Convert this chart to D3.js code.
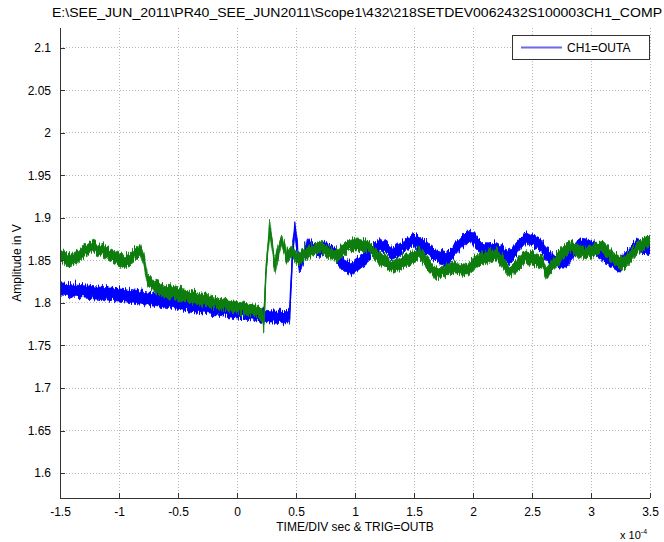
<!DOCTYPE html>
<html><head><meta charset="utf-8">
<script src="https://cdn.jsdelivr.net/npm/d3@7"></script>
<style>body{margin:0;background:#fff}svg{display:block}text{font-family:"Liberation Sans",Arial,sans-serif;fill:#000}</style>
</head><body><svg id="c" width="664" height="542"></svg>
<script>
const titleText = "E:\\SEE_JUN_2011\\PR40_SEE_JUN2011\\Scope1\\432\\218SETDEV0062432S100003CH1_COMP";
const xLabel = "TIME/DIV sec & TRIG=OUTB";
const yLabel = "Amplitude in V";
const legendLabel = "CH1=OUTA";
const xTicks = [-1.5,-1,-0.5,0,0.5,1,1.5,2,2.5,3,3.5];
const yTicks = [1.6,1.65,1.7,1.75,1.8,1.85,1.9,1.95,2,2.05,2.1];
const xDomain = [-1.5, 3.5];
const yDomain = [1.5706, 2.1235];

// Blue series (CH1=OUTA): time (x1e-4 s), centre value (V)
const blueT = [-1.5,-1.25,-1.0,-0.75,-0.5,-0.25,0.0,0.2,0.43,0.445,0.47,0.49,0.53,0.56,0.6,0.65,0.7,0.74,0.83,0.9,0.97,1.06,1.14,1.21,1.32,1.40,1.49,1.57,1.69,1.78,1.88,1.97,2.08,2.2,2.31,2.38,2.45,2.56,2.67,2.79,2.9,3.01,3.13,3.24,3.32,3.39,3.5];
const blueV = [1.819,1.816,1.813,1.808,1.802,1.797,1.792,1.788,1.786,1.787,1.86,1.892,1.845,1.855,1.872,1.866,1.862,1.869,1.861,1.849,1.843,1.853,1.863,1.872,1.861,1.868,1.878,1.871,1.859,1.855,1.870,1.883,1.866,1.866,1.857,1.868,1.880,1.872,1.853,1.853,1.872,1.869,1.857,1.847,1.860,1.871,1.866];
const blueNoise = 0.0072;

// Green series (second channel)
const greenT = [-1.5,-1.43,-1.35,-1.23,-1.12,-1.05,-0.95,-0.88,-0.82,-0.79,-0.76,-0.70,-0.6,-0.48,-0.35,-0.23,-0.1,0.04,0.15,0.21,0.227,0.245,0.278,0.32,0.35,0.38,0.42,0.46,0.51,0.6,0.72,0.83,0.94,1.02,1.11,1.23,1.32,1.46,1.55,1.69,1.83,1.95,2.06,2.2,2.31,2.45,2.59,2.62,2.72,2.82,2.96,3.1,3.18,3.27,3.41,3.5];
const greenV = [1.859,1.853,1.858,1.869,1.862,1.858,1.851,1.858,1.866,1.855,1.832,1.822,1.817,1.813,1.809,1.805,1.801,1.797,1.794,1.790,1.776,1.84,1.893,1.845,1.862,1.877,1.857,1.865,1.855,1.862,1.868,1.857,1.870,1.872,1.869,1.853,1.845,1.855,1.861,1.837,1.845,1.842,1.855,1.861,1.839,1.857,1.851,1.839,1.855,1.869,1.861,1.8685,1.857,1.849,1.869,1.878];
const greenNoise = 0.0068;

const svg = d3.select("#c");
const L = 60, R = 650, T = 28, B = 498;
const x = d3.scaleLinear().domain(xDomain).range([L, R]);
const y = d3.scaleLinear().domain(yDomain).range([B, T]);

// roughening filter (visual style for the noisy oscilloscope trace)
const defs = svg.append("defs");
const f = defs.append("filter").attr("id", "rough").attr("x", "-5%").attr("y", "-20%").attr("width", "110%").attr("height", "140%");
f.append("feTurbulence").attr("type", "turbulence").attr("baseFrequency", "0.9 0.03").attr("numOctaves", 2).attr("seed", 3).attr("result", "n");
f.append("feColorMatrix").attr("in", "n").attr("type", "matrix")
  .attr("values", "0 0 0 0 0.5  0 1 0 0 0  0 0 0 0 0  0 0 0 0 1").attr("result", "m");
f.append("feDisplacementMap").attr("in", "SourceGraphic").attr("in2", "m").attr("scale", 10)
  .attr("xChannelSelector", "R").attr("yChannelSelector", "G");
defs.append("clipPath").attr("id", "plotclip").append("rect").attr("x", L).attr("y", T).attr("width", R - L).attr("height", B - T);

// grid
const g = svg.append("g");
g.selectAll(".gx").data(xTicks.slice(1)).enter().append("line")
  .attr("x1", d => x(d)).attr("x2", d => x(d)).attr("y1", T).attr("y2", B)
  .attr("stroke", "#b8b8b8").attr("stroke-dasharray", "1,2").attr("shape-rendering","crispEdges");
g.selectAll(".gy").data(yTicks).enter().append("line")
  .attr("x1", L).attr("x2", R).attr("y1", d => y(d)).attr("y2", d => y(d))
  .attr("stroke", "#b8b8b8").attr("stroke-dasharray", "1,2").attr("shape-rendering","crispEdges");

// series
const plot = svg.append("g").attr("clip-path", "url(#plotclip)");
function drawSeries(ts, vs, noise, color) {
  const pts = ts.map((t, i) => [t, vs[i]]);
  const gg = plot.append("g").attr("filter", "url(#rough)");
  const area = d3.area().x(d => x(d[0])).y0(d => y(d[1] - noise)).y1(d => y(d[1] + noise));
  gg.append("path").datum(pts).attr("d", area).attr("fill", color).attr("stroke", color).attr("stroke-width", 0.8);
  const line = d3.line().x(d => x(d[0])).y(d => y(d[1]));
  gg.append("path").datum(pts).attr("d", line).attr("fill", "none").attr("stroke", color).attr("stroke-width", 1.5);
}
drawSeries(blueT, blueV, blueNoise, "#0000ff");
drawSeries(greenT, greenV, greenNoise, "#0a7d0a");

// axes
const xAxis = d3.axisBottom(x).tickValues(xTicks).tickSizeInner(-5).tickSizeOuter(0).tickPadding(9).tickFormat(d => d);
const yAxis = d3.axisLeft(y).tickValues(yTicks).tickSizeInner(-5).tickSizeOuter(0).tickPadding(9).tickFormat(d => d);
const gx = svg.append("g").attr("transform", `translate(0,${B})`).call(xAxis);
const gy = svg.append("g").attr("transform", `translate(${L},0)`).call(yAxis);
[gx, gy].forEach(a => {
  a.select(".domain").attr("stroke", "#333").attr("shape-rendering","crispEdges");
  a.selectAll(".tick line").attr("stroke", "#333").attr("shape-rendering","crispEdges");
  a.selectAll("text").attr("font-size", 12).attr("font-family", "Liberation Sans, Arial, sans-serif").attr("fill", "#000");
});
gy.select(".domain").attr("d", `M0,${T}V${B}`);
gx.select(".domain").attr("d", `M${L},0H${R}`);

// title and labels
svg.append("text").attr("x", 52).attr("y", 17).attr("font-size", 13)
  .attr("textLength", 610).attr("lengthAdjust", "spacingAndGlyphs").text(titleText);
svg.append("text").attr("x", (L + R) / 2).attr("y", 531).attr("text-anchor", "middle").attr("font-size", 12).text(xLabel);
svg.append("text").attr("transform", `translate(21,${(T + B) / 2}) rotate(-90)`).attr("text-anchor", "middle").attr("font-size", 12).text(yLabel);
const mult = svg.append("text").attr("x", 620).attr("y", 539).attr("font-size", 11);
mult.append("tspan").text("x 10");
mult.append("tspan").attr("dy", -5).attr("font-size", 7).text("-4");

// legend
const lg = svg.append("g");
lg.append("rect").attr("x", 512.5).attr("y", 35.5).attr("width", 137).attr("height", 24)
  .attr("fill", "#fff").attr("stroke", "#333");
lg.append("line").attr("x1", 521).attr("x2", 562).attr("y1", 47.5).attr("y2", 47.5).attr("stroke", "#6b6be8").attr("stroke-width", 2);
lg.append("text").attr("x", 567).attr("y", 52).attr("font-size", 12).text(legendLabel);
</script></body></html>
